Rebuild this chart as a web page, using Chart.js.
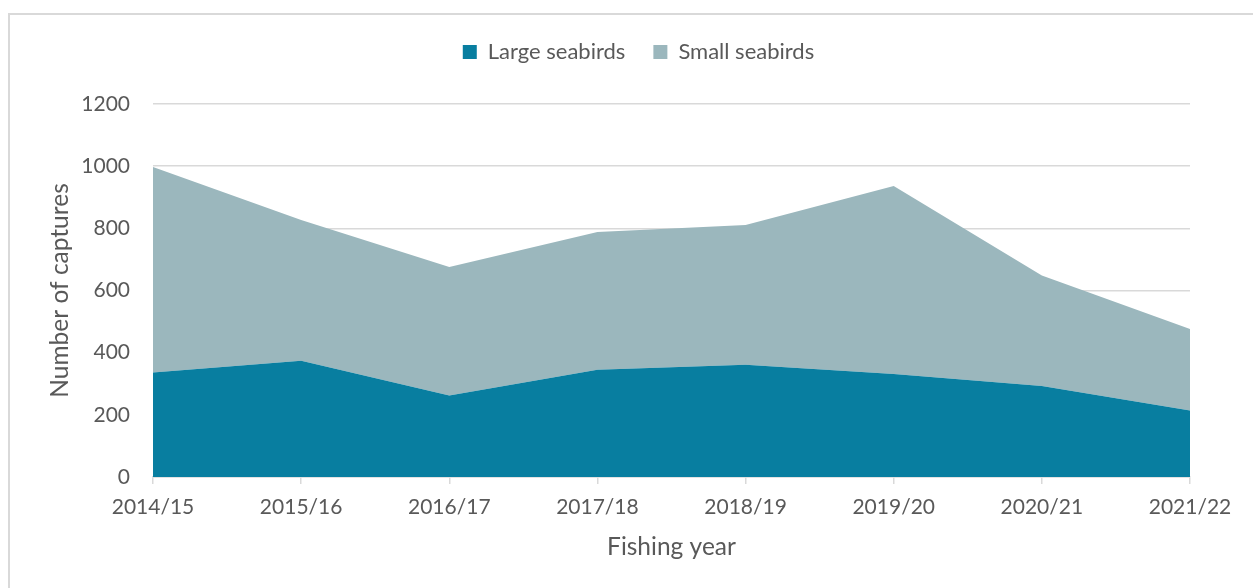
<!DOCTYPE html>
<html>
<head>
<meta charset="utf-8">
<script src="https://cdn.jsdelivr.net/npm/chart.js@4.4.0/dist/chart.umd.min.js"></script>
<style>
  html, body { margin: 0; padding: 0; background: #fff; overflow: hidden; }
  #frame { position: absolute; left: 8px; top: 13px; width: 1260px; height: 600px; border: 2px solid #d9d9d9; box-sizing: border-box; }
  #wrap { position: absolute; left: 0; top: 0; width: 1253px; height: 588px; }
</style>
</head>
<body>
<div id="frame"></div>
<div id="wrap"><canvas id="myChart" width="1253" height="588"></canvas></div>
<script>
const years = ["2014/15", "2015/16", "2016/17", "2017/18", "2018/19", "2019/20", "2020/21", "2021/22"];
const largeSeabirds = [336, 374, 262, 345, 361, 331, 293, 214];
const smallSeabirds = [661, 453, 414, 443, 450, 605, 355, 262];

const textColor = "#595959";
const gridColor = "#d9d9d9";
const fontFamily = "Lato, 'Open Sans', sans-serif";

// leave a gap under the legend row and centre it on the whole canvas
const legendGap = {
    id: "legendGap",
    afterInit(chart) {
        const fit = chart.legend.fit;
        chart.legend.fit = function () {
            fit.call(this);
            this.height += 31;
        };
    },
    afterLayout(chart) {
        chart.legend.left += 21;
        chart.legend.right += 21;
    }
};

const chart = document.getElementById("myChart");

const datasets = [
    {
        label: "Large seabirds",
        data: largeSeabirds,
        backgroundColor: "rgb(8, 126, 160)",
        borderWidth: 0,
        pointRadius: 0,
        fill: "origin",
    },
    {
        label: "Small seabirds",
        data: smallSeabirds,
        backgroundColor: "rgb(155, 183, 189)",
        borderWidth: 0,
        pointRadius: 0,
        fill: "-1",
    },
];

const config = {
    type: "line",
    data: { labels: years, datasets },
    plugins: [legendGap],
    options: {
        responsive: false,
        animation: false,
        layout: { padding: { top: 13, left: 45, right: 63, bottom: 0 } },
        plugins: {
            legend: {
                position: "top",
                labels: {
                    boxWidth: 14,
                    boxHeight: 14,
                    padding: 28,
                    color: textColor,
                    font: { family: fontFamily, size: 22 },
                },
            },
            tooltip: { enabled: false },
        },
        scales: {
            x: {
                grid: { drawOnChartArea: false, drawTicks: true, tickLength: 7, color: gridColor, lineWidth: 1.5 },
                border: { display: true, color: gridColor, width: 1.5 },
                ticks: { color: textColor, padding: 11, font: { family: fontFamily, size: 21 }, maxRotation: 0 },
                title: {
                    display: true,
                    text: "Fishing year",
                    color: textColor,
                    font: { family: fontFamily, size: 24.5 },
                    padding: { top: 0, bottom: 26.3 },
                },
                afterFit: (scale) => { scale.height = 111; },
            },
            y: {
                stacked: true,
                min: 0,
                max: 1200,
                grid: { drawTicks: false, color: gridColor, lineWidth: 1.5 },
                border: { display: false },
                ticks: {
                    stepSize: 200,
                    color: textColor,
                    padding: 23,
                    font: { family: fontFamily, size: 21 },
                    callback: (value) => String(value),
                },
                title: {
                    display: true,
                    text: "Number of captures",
                    color: textColor,
                    font: { family: fontFamily, size: 24.5 },
                    padding: { top: 0.3, bottom: 0 },
                },
                afterFit: (scale) => { scale.width = 108; },
            },
        },
    },
};

const myChart = new Chart(chart, config);
</script>
</body>
</html>
